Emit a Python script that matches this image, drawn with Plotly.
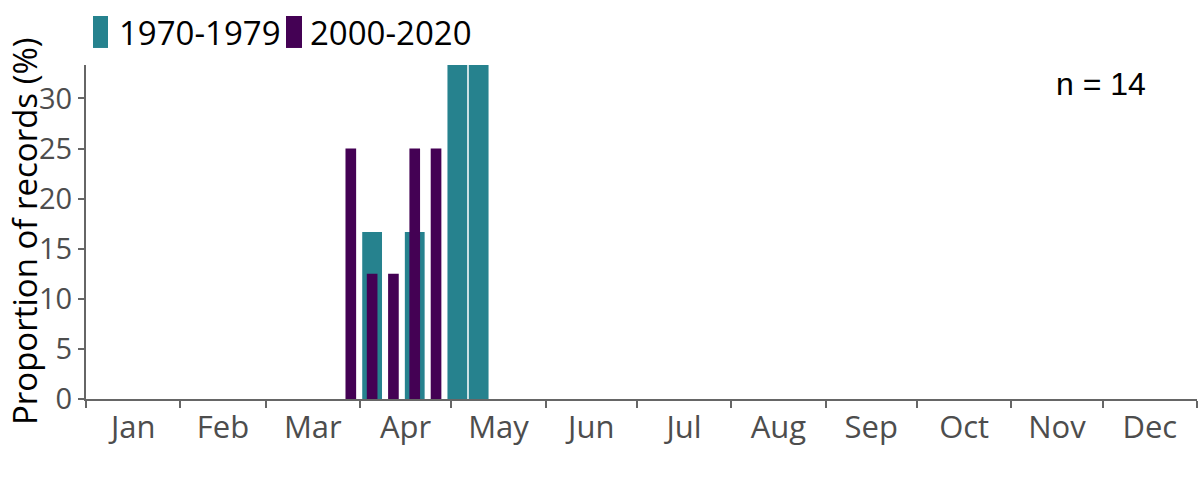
import plotly.graph_objects as go

# ---- data ----
months = ["Jan", "Feb", "Mar", "Apr", "May", "Jun", "Jul", "Aug", "Sep", "Oct", "Nov", "Dec"]
month_days = [31, 28, 31, 30, 31, 30, 31, 31, 30, 31, 30, 31]
weeks = [13, 14, 15, 16, 17, 18, 19]                 # week of year (7-day bins from 1 Jan)
pct_1970s = [0, 16.67, 0, 16.67, 0, 33.33, 33.33]    # 1970-1979
pct_2000s = [25, 12.5, 12.5, 25, 25, 0, 0]           # 2000-2020
series_names = ["1970-1979", "2000-2020"]
y_ticks = [0, 5, 10, 15, 20, 25, 30]
y_title = "Proportion of records (%)"
n_records = 14

# ---- derived positions ----
bounds = [0]
for d in month_days:
    bounds.append(bounds[-1] + d)
mids = [(bounds[i] + bounds[i + 1]) / 2 for i in range(12)]
week_x = [(w - 1) * 7 + 3 for w in weeks]

TEAL = "#26828E"
PURPLE = "#440154"
FONT = "Open Sans"
AX = "#666666"

fig = go.Figure()
fig.add_trace(go.Bar(x=week_x, y=pct_1970s, width=6.5, name=series_names[0],
                     marker=dict(color=TEAL, line=dict(width=0))))
fig.add_trace(go.Bar(x=week_x, y=pct_2000s, width=3.5, name=series_names[1],
                     marker=dict(color=PURPLE, line=dict(width=0))))

# legend drawn as swatches + labels (tall swatches as in the original)
legend_items = [
    (series_names[0], TEAL, 0.0063, 0.0198, 0.0279),
    (series_names[1], PURPLE, 0.180, 0.1944, 0.1998),
]
shapes = []
annotations = []
for name, col, sx0, sx1, tx in legend_items:
    shapes.append(dict(type="rect", xref="paper", yref="paper", x0=sx0, x1=sx1,
                       y0=1.051, y1=1.1467, fillcolor=col, line=dict(width=0)))
    annotations.append(dict(text=name, xref="paper", yref="paper", x=tx, y=1.096,
                            xanchor="left", yanchor="middle", showarrow=False,
                            font=dict(family=FONT, size=33, color="black")))
annotations.append(dict(text=f"n = {n_records}", xref="paper", yref="paper",
                        x=0.914, y=0.943, xanchor="center", yanchor="middle",
                        showarrow=False,
                        font=dict(family="Liberation Sans", size=32, color="black")))
# y-axis title
annotations.append(dict(text=y_title, xref="paper", yref="paper",
                        x=-0.0558, y=0.5, xanchor="center", yanchor="middle",
                        textangle=-90, showarrow=False, borderpad=0,
                        font=dict(family=FONT, size=33, color="black")))

fig.update_layout(
    width=1200, height=480,
    barmode="overlay",
    plot_bgcolor="white", paper_bgcolor="white",
    margin=dict(l=86, r=3, t=65, b=81, autoexpand=False),
    font=dict(family=FONT, size=30, color="black"),
    showlegend=False,
    shapes=shapes,
    annotations=annotations,
    xaxis=dict(range=[0, 365], tickmode="array", tickvals=mids, ticktext=months,
               ticks="", showgrid=False, zeroline=False, automargin=False,
               showline=True, linecolor=AX, linewidth=2,
               tickfont=dict(family=FONT, size=31, color="#4d4d4d"),
               minor=dict(tickmode="array", tickvals=bounds, ticks="outside",
                          ticklen=7, tickwidth=2, tickcolor=AX, showgrid=False)),
    yaxis=dict(range=[0, 33.34], tickmode="array", tickvals=y_ticks,
               ticks="outside", ticklen=6, tickwidth=2, tickcolor=AX,
               showgrid=False, zeroline=False, automargin=False,
               showline=True, linecolor=AX, linewidth=2,
               tickfont=dict(family=FONT, size=29, color="#4d4d4d")),
)

fig.write_html("out.html", config={"displayModeBar": False},
               post_script="document.body.style.margin='0px';document.body.style.overflow='hidden';")
